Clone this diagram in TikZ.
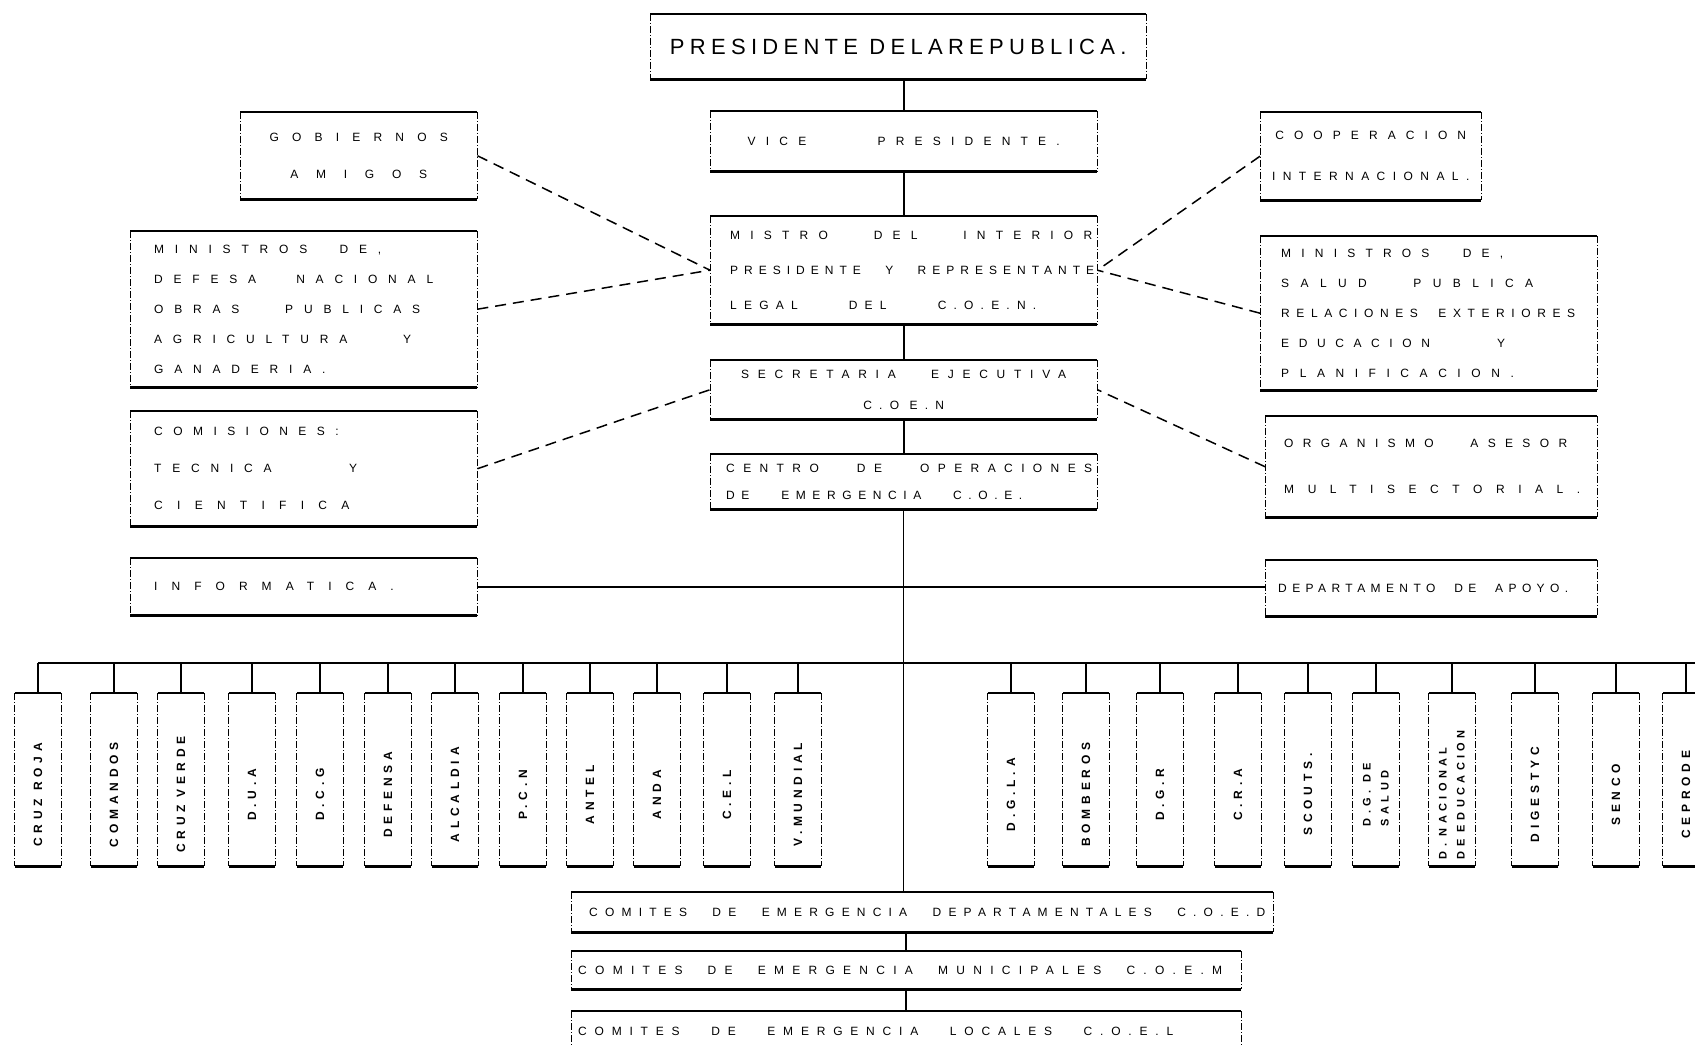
\documentclass[tikz,border=0pt]{standalone}
\usepackage{fontspec}
\usepackage{graphicx}
\newfontfamily\typer{Liberation Sans}

% letter spaced text, and letter spaced text spread to a given width
\newcommand\ls[2]{{\addfontfeature{LetterSpace=#1}#2}}
\newcommand\row[3]{\makebox[#1pt][s]{\addfontfeature{LetterSpace=#2}%
  \spaceskip=.28em plus 1fil\xspaceskip=\spaceskip #3}}
\newcommand\pairline[2]{{\fontsize{11pt}{18pt}\selectfont\begin{tabular}{@{}l@{}}#1\\#2\end{tabular}}}

\tikzset{
  unit/.style={anchor=north west, inner ysep=0pt, align=left,
    font=\typer\fontsize{12pt}{30pt}\selectfont},
  lead/.style={font=\typer\fontsize{12pt}{#1pt}\selectfont},
  tag/.style={anchor=north, minimum width=46pt, minimum height=173pt, inner sep=0pt,
    font=\typer\bfseries\fontsize{12pt}{14pt}\selectfont\addfontfeature{LetterSpace=40}},
  rim/.style={line width=2.4pt},
  flank/.style={line width=0.9pt, dash pattern=on 7pt off 2pt on 1pt off 2pt},
  wire/.style={line width=1.6pt},
  bus/.style={line width=2.6pt},
  link/.style={line width=1.5pt, dash pattern=on 11pt off 7pt},
}

\begin{document}
\begin{tikzpicture}[x=1pt, y=-1pt]
  \useasboundingbox (0,0) rectangle (1695,1046);

  % central column
  \node[unit, align=center, minimum width=496pt, minimum height=65pt,
    font=\typer\fontsize{22pt}{26pt}\selectfont] (pres) at (650,14)
    {\ls{24}{PRESIDENTE DELAREPUBLICA.}};
  \node[unit, align=center, minimum width=387pt, minimum height=60pt] (vice) at (710,111)
    {\row{312}{85}{VICE PRESIDENTE.}};
  \node[unit, lead=35, text width=347pt, inner xsep=20pt, minimum height=108pt] (mistro) at (710,216)
    {\row{362}{85}{MISTRO DEL INTERIOR}\\ \row{364}{50}{PRESIDENTE Y REPRESENTANTE}\\
     \row{306}{60}{LEGAL DEL C.O.E.N.}};
  \node[unit, lead=31, align=center, minimum width=387pt, minimum height=59pt] (secre) at (710,360)
    {\row{325}{73}{SECRETARIA EJECUTIVA}\\ \ls{60}{C.O E.N}};
  \node[unit, lead=27, text width=355pt, inner xsep=16pt, minimum height=55pt] (centro) at (710,454)
    {\row{366}{70}{CENTRO DE OPERACIONES}\\ \row{296}{55}{DE EMERGENCIA C.O.E.}};

  % left side
  \node[unit, lead=37, align=center, minimum width=237pt, minimum height=87pt] (gob) at (240,112)
    {\ls{110}{GOBIERNOS}\\ \ls{148}{AMIGOS}};
  \node[unit, lead=30, text width=299pt, inner xsep=24pt, minimum height=156pt] (minL) at (130,231)
    {\row{227}{90}{MINISTROS DE,}\\ \row{279}{90}{DEFESA NACIONAL}\\ \row{266}{90}{OBRAS PUBLICAS}\\
     \row{257}{90}{AGRICULTURA Y}\\ \ls{90}{GANADERIA.}};
  \node[unit, lead=37, text width=299pt, inner xsep=24pt, minimum height=115pt] (comis) at (130,411)
    {\ls{87}{COMISIONES:}\\ \row{203}{90}{TECNICA Y}\\ \ls{119}{CIENTIFICA}};
  \node[unit, text width=299pt, inner xsep=24pt, minimum height=57pt] (info) at (130,558)
    {\ls{117}{INFORMATICA.}};

  % right side
  \node[unit, lead=41, align=center, minimum width=221pt, minimum height=88pt] (coop) at (1260,112)
    {\ls{84}{COOPERACION}\\ \ls{62}{INTERNACIONAL.}};
  \node[unit, lead=30, text width=295pt, inner xsep=21pt, minimum height=154pt] (minR) at (1260,236)
    {\row{222}{85}{MINISTROS DE,}\\ \row{252}{95}{SALUD PUBLICA}\\ \row{294}{55}{RELACIONES EXTERIORES}\\
     \row{224}{80}{EDUCACION Y}\\ \ls{88}{PLANIFICACION.}};
  \node[unit, lead=46, text width=294pt, inner xsep=19pt, minimum height=101pt] (orga) at (1265,416)
    {\row{283}{78}{ORGANISMO ASESOR}\\ \ls{113}{MULTISECTORIAL.}};
  \node[unit, text width=306pt, inner xsep=13pt, minimum height=56pt] (apoyo) at (1265,560)
    {\row{290}{45}{DEPARTAMENTO DE APOYO.}};

  % emergency committees
  \node[unit, text width=666pt, inner xsep=18pt, minimum height=40pt] (coed) at (571,892)
    {\row{676}{60}{COMITES DE EMERGENCIA DEPARTAMENTALES C.O.E.D}};
  \node[unit, text width=656pt, inner xsep=7pt, minimum height=38pt] (coem) at (571,951)
    {\row{644}{69}{COMITES DE EMERGENCIA MUNICIPALES C.O.E.M}};
  \node[unit, text width=656pt, inner xsep=7pt, minimum height=40pt] (coel) at (571,1011)
    {\row{595}{65}{COMITES DE EMERGENCIA LOCALES C.O.E.L}};

  % member institutions
  \foreach \x/\n/\t in {38/cr/CRUZ ROJA, 114/com/COMANDOS, 181/cv/CRUZ VERDE, 252/dua/D.U.A,
      320/dcg/D.C.G, 388/def/DEFENSA, 455/alc/ALCALDIA, 523/pcn/P.C.N, 590/ant/ANTEL,
      657/anda/ANDA, 727/cel/C.E.L, 798/vm/V.MUNDIAL, 1011/dgla/D.G.L.A, 1086/bom/BOMBEROS,
      1160/dgr/D.G.R, 1238/cra/C.R.A, 1308/sco/SCOUTS., 1376/dgs/{\pairline{D.G. DE}{SALUD}},
      1452/dne/{\pairline{D. NACIONAL}{DE EDUCACION}}, 1535/dig/DIGESTYC, 1616/sen/SENCO,
      1686/cep/CEPRODE}
    \node[tag] (\n) at (\x,693) {\rotatebox{90}{\t\hspace{30pt}}};

  % box outlines: heavy top and bottom, broken sides
  \foreach \b in {pres,vice,mistro,secre,centro,gob,minL,comis,info,coop,minR,orga,apoyo,
      coed,coem,coel,cr,com,cv,dua,dcg,def,alc,pcn,ant,anda,cel,vm,dgla,bom,dgr,cra,sco,
      dgs,dne,dig,sen,cep}{
    \draw[rim] (\b.north west) -- (\b.north east) (\b.south west) -- (\b.south east);
    \draw[flank] (\b.north west) -- (\b.south west) (\b.north east) -- (\b.south east);
  }

  % line of command
  \draw[wire] (vice.north |- pres.south) -- (vice.north);
  \draw[wire] (vice.south) -- (mistro.north);
  \draw[wire] (mistro.south) -- (secre.north);
  \draw[wire] (secre.south) -- (centro.north);
  \draw[line width=1.1pt] (centro.south) -- (centro.south |- coed.north);
  \draw[wire] (coem.north |- coed.south) -- (coem.north);
  \draw[wire] (coem.south) -- (coel.north);
  \draw[wire] (info.east) -- (info.east -| apoyo.west);

  % advisory links
  \draw[link] (gob.east) -- (mistro.west);
  \draw[link] (minL.east) -- (mistro.west);
  \draw[link] (comis.east) -- (secre.west);
  \draw[link] (coop.west) -- (mistro.east);
  \draw[link] (minR.west) -- (mistro.east);
  \draw[link] (orga.west) -- (secre.east);

  % distribution bar
  \coordinate (busL) at (38,663);
  \coordinate (busR) at (1695,663);
  \draw[bus] (busL) -- (busR);
  \foreach \n in {cr,com,cv,dua,dcg,def,alc,pcn,ant,anda,cel,vm,dgla,bom,dgr,cra,sco,dgs,dne,
      dig,sen,cep}
    \draw[wire] (\n.north |- busL) -- (\n.north);
\end{tikzpicture}
\end{document}
